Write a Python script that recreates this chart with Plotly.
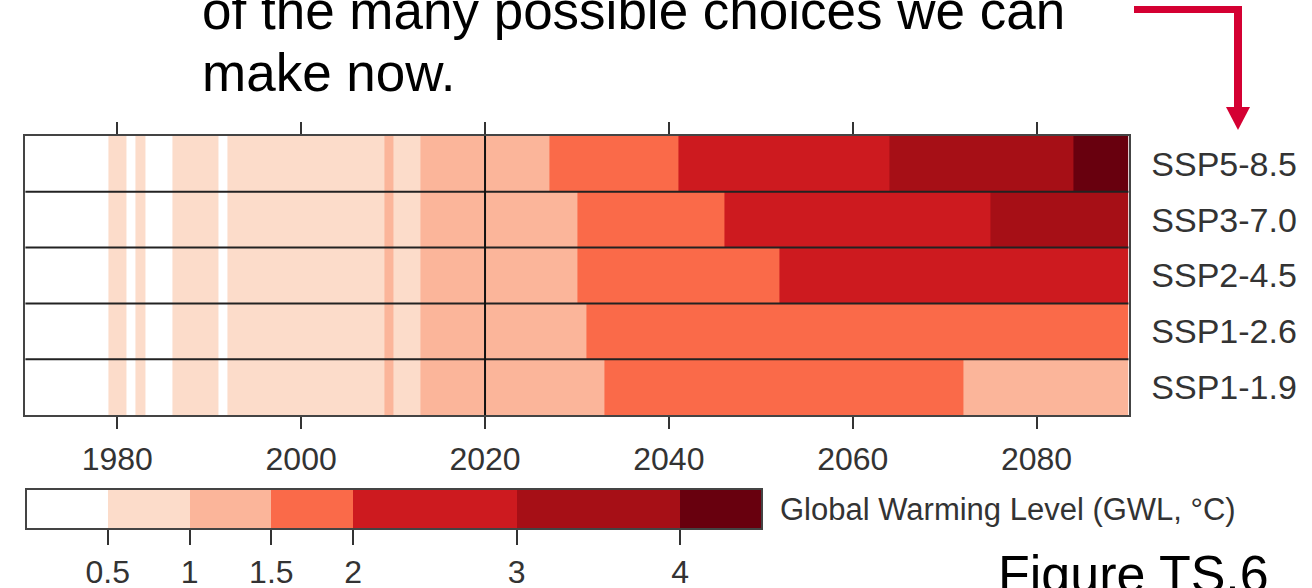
import plotly.graph_objects as go

W, H = 1312, 588

# ---------------- data ----------------
scenarios = ["SSP1-1.9", "SSP1-2.6", "SSP2-4.5", "SSP3-7.0", "SSP5-8.5"]  # bottom -> top

band_edges = [0, 0.5, 1, 1.5, 2, 3, 4, 4.5]
band_colors = ["#ffffff", "#fcdcca", "#fbb59a", "#fa6a49", "#cd1a1f", "#a60f16", "#68000e"]
band_ticks = [0.5, 1, 1.5, 2, 3, 4]
band_ticktext = ["0.5", "1", "1.5", "2", "3", "4"]
band_title = "Global Warming Level (GWL, °C)"

# observed period: year a band starts, band index (shared by all scenarios)
hist_start = [1970, 1979, 1981, 1982, 1983, 1986, 1991, 1992, 2009, 2010, 2013]
hist_band = [0, 1, 0, 1, 0, 1, 0, 1, 2, 1, 2]

# projections: year each scenario enters a new band, and that band index
proj_start = {
    "SSP5-8.5": [2027, 2041, 2064, 2084],
    "SSP3-7.0": [2030, 2046, 2075],
    "SSP2-4.5": [2030, 2052],
    "SSP1-2.6": [2031],
    "SSP1-1.9": [2033, 2072],
}
proj_band = {
    "SSP5-8.5": [3, 4, 5, 6],
    "SSP3-7.0": [3, 4, 5],
    "SSP2-4.5": [3, 4],
    "SSP1-2.6": [3],
    "SSP1-1.9": [3, 2],
}
end_year = 2090
x_ticks = [1980, 2000, 2020, 2040, 2060, 2080]
present_year = 2020

# ---------------- build heatmap grid from segments ----------------
edges = sorted(set(hist_start + [y for s in scenarios for y in proj_start[s]] + [end_year]))
zmax = band_edges[-1]
mid = [(band_edges[i] + band_edges[i + 1]) / 2 for i in range(len(band_colors))]

z = []
for s in scenarios:
    starts = hist_start + proj_start[s]
    bands = hist_band + proj_band[s]
    row = []
    for e in edges[:-1]:
        b = bands[max(i for i, st in enumerate(starts) if st <= e)]
        row.append(mid[b])
    z.append(row)

colorscale = []
for i, c in enumerate(band_colors):
    colorscale.append([band_edges[i] / zmax, c])
    colorscale.append([band_edges[i + 1] / zmax, c])


def px(x):
    return x / W


def py(y):
    return 1 - y / H


FONT = "Liberation Sans, Arial, Helvetica, sans-serif"
GRAY = "#333333"

fig = go.Figure()
fig.add_trace(go.Heatmap(
    x=edges,
    y=list(range(len(scenarios))),
    z=z,
    zmin=0, zmax=zmax,
    colorscale=colorscale,
    zsmooth=False,
    hoverinfo="skip",
    colorbar=dict(
        orientation="h",
        lenmode="pixels", len=736,
        thicknessmode="pixels", thickness=40,
        x=px(26), xanchor="left", xref="paper",
        y=py(489), yanchor="top", yref="paper",
        xpad=0, ypad=0,
        outlinecolor="#444444", outlinewidth=2,
        tickmode="array", tickvals=band_ticks, ticktext=band_ticktext,
        ticks="outside", ticklen=15, tickwidth=2, tickcolor=GRAY,
        tickangle=0,
        tickfont=dict(family=FONT, size=32, color=GRAY),
    ),
))

fig.update_layout(
    width=W, height=H,
    margin=dict(l=0, r=0, t=0, b=0, autoexpand=False),
    paper_bgcolor="white", plot_bgcolor="white",
    template="none",
    showlegend=False,
    xaxis=dict(
        domain=[px(25.4), px(1128.5)],
        range=[edges[0], end_year],
        tickmode="array", tickvals=x_ticks,
        ticks="outside", ticklen=12, tickwidth=2, tickcolor=GRAY,
        showline=True, linecolor="#444444", linewidth=2, mirror="ticks",
        showgrid=False, zeroline=False,
        tickfont=dict(family=FONT, size=32, color=GRAY),
        ticklabelstandoff=3,
        automargin=False,
    ),
    yaxis=dict(
        domain=[py(415), py(136)],
        range=[-0.5, len(scenarios) - 0.5],
        side="right",
        tickmode="array", tickvals=list(range(len(scenarios))), ticktext=scenarios,
        ticks="",
        showline=True, linecolor="#444444", linewidth=2, mirror=True,
        showgrid=False, zeroline=False,
        tickfont=dict(family=FONT, size=34, color=GRAY),
        ticklabelstandoff=14,
        automargin=False,
    ),
)

# row separators
for i in range(len(scenarios) - 1):
    fig.add_shape(type="line", xref="x domain", yref="y", x0=0, x1=1, y0=i + 0.5, y1=i + 0.5,
                  line=dict(color="#222222", width=2))
# present-day line
fig.add_shape(type="line", xref="x", yref="y domain", x0=present_year, x1=present_year, y0=0, y1=1,
              line=dict(color="#111111", width=2))

# red arrow (decoration)
RED = "#d40032"
fig.add_shape(type="line", xref="paper", yref="paper", x0=px(1134), x1=px(1242), y0=py(9.5), y1=py(9.5),
              line=dict(color=RED, width=7))
fig.add_shape(type="line", xref="paper", yref="paper", x0=px(1238), x1=px(1238), y0=py(6), y1=py(110),
              line=dict(color=RED, width=8))
fig.add_shape(type="path", xref="paper", yref="paper",
              path=f"M {px(1226)} {py(107)} L {px(1250)} {py(107)} L {px(1238)} {py(130)} Z",
              fillcolor=RED, line=dict(color=RED, width=0))

# colorbar title
fig.add_annotation(text=band_title, xref="paper", yref="paper",
                   x=px(778), y=py(509), xanchor="left", yanchor="middle", showarrow=False,
                   font=dict(family=FONT, size=31, color=GRAY))

# text
fig.add_annotation(text="of the many possible choices we can", xref="paper", yref="paper",
                   x=px(200), y=py(10), xanchor="left", yanchor="middle", showarrow=False,
                   font=dict(family=FONT, size=53, color="black"))
fig.add_annotation(text="make now.", xref="paper", yref="paper",
                   x=px(200), y=py(73), xanchor="left", yanchor="middle", showarrow=False,
                   font=dict(family=FONT, size=53, color="black"))
fig.add_annotation(text="Figure TS.6", xref="paper", yref="paper",
                   x=px(996), y=py(574), xanchor="left", yanchor="middle", showarrow=False,
                   font=dict(family=FONT, size=52, color="black"))

fig.write_html("out.html")
